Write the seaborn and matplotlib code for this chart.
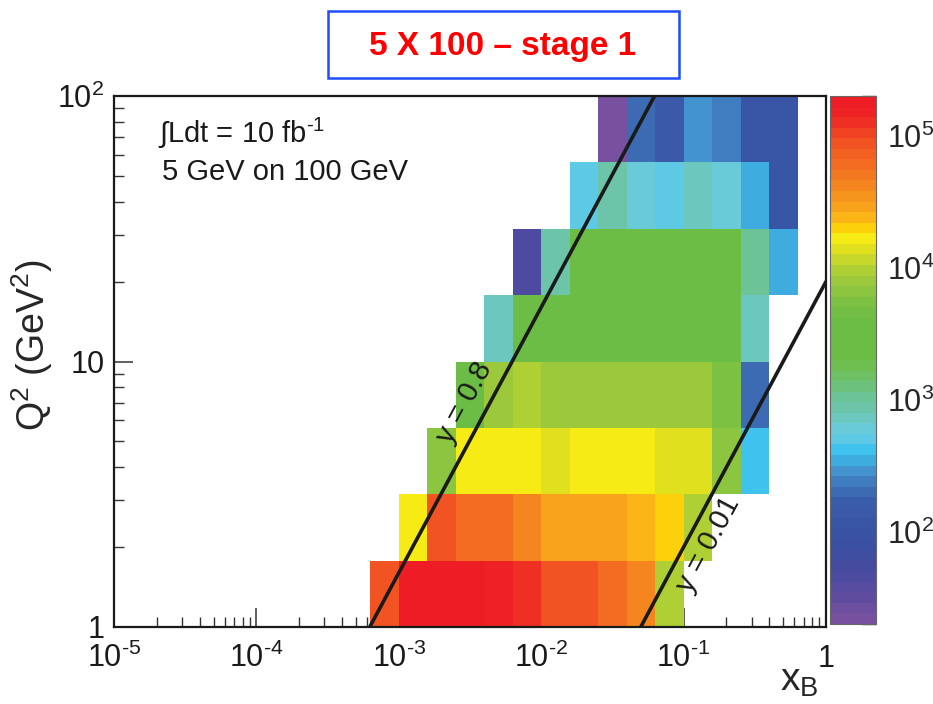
import numpy as np
import matplotlib
matplotlib.use("Agg")
import matplotlib.pyplot as plt
import seaborn as sns
from matplotlib.colors import LinearSegmentedColormap, LogNorm
from matplotlib.ticker import LogLocator, NullFormatter
from matplotlib.patches import Rectangle

# histogram bin edges (log10 units)
log_xb_edges = [-3.2, -3.0, -2.8, -2.6, -2.4, -2.2, -2.0, -1.8, -1.6,
                -1.4, -1.2, -1.0, -0.8, -0.6, -0.4, -0.2]
log_q2_edges = [0.0, 0.25, 0.5, 0.75, 1.0, 1.25, 1.5, 1.75, 2.0]

# counts per bin, one list per Q2 row from bottom to top (nan = empty bin)
nan = np.nan
counts_row1 = [85000, 186000, 186000, 186000, 148000, 126000, 85000, 85000,
               59000, 42000, 10300, nan, nan, nan, nan]
counts_row2 = [nan, 16600, 85000, 56000, 56000, 42000, 29500, 29500,
               29500, 24000, 20000, 10300, nan, nan, nan]
counts_row3 = [nan, nan, 7200, 16600, 16600, 16600, 14700, 15800,
               15800, 15800, 13600, 13600, 6800, 410, nan]
counts_row4 = [nan, nan, nan, 3300, 7400, 10300, 8600, 8600,
               8600, 7400, 7400, 7400, 5600, 200, nan]
counts_row5 = [nan, nan, nan, nan, 790, 3300, 3300, 3300,
               3300, 3300, 3300, 3300, 3300, 790, nan]
counts_row6 = [nan, nan, nan, nan, nan, 50, 830, 2000,
               3300, 3300, 2000, 2240, 2000, 1120, 350]
counts_row7 = [nan, nan, nan, nan, nan, nan, nan, 490,
               930, 590, 490, 720, 590, 350, 105]
counts_row8 = [nan, nan, nan, nan, nan, nan, nan, nan,
               22, 200, 138, 290, 245, 112, 112]

# kinematic limits: Q2 = x * y * s, beams 5 GeV on 100 GeV
e_beam = 5.0
p_beam = 100.0
y_limits = [0.8, 0.01]
y_labels = ["y = 0.8", "y = 0.01"]

# palette sampled from the colour bar (position, colour)
cbar_pos = [0.0, 0.045, 0.093, 0.14, 0.176, 0.225, 0.25, 0.277, 0.295, 0.314,
            0.33, 0.348, 0.371, 0.396, 0.424, 0.443, 0.462, 0.481, 0.5, 0.58,
            0.614, 0.642, 0.661, 0.68, 0.70, 0.718, 0.735, 0.754, 0.773, 0.792,
            0.811, 0.831, 0.85, 0.871, 0.89, 0.909, 0.93, 0.951, 0.97, 1.0]
cbar_cols = ["#77519F", "#5E4C9F", "#484B9F", "#3B50A2", "#3953A4", "#3A5DAB",
             "#3C6FB5", "#4388C8", "#429FD7", "#3DB5E7", "#3FC6F0", "#5FC9E4",
             "#6BCBD4", "#6CC6B4", "#6CC39A", "#6CC285", "#6DC06C", "#6FBF5A",
             "#6CBD45", "#6CBD45", "#7DC142", "#93C73E", "#A3CB38", "#B5D334",
             "#CFDA26", "#E6E21C", "#F6EB14", "#FDD10B", "#FBB816", "#F9A51B",
             "#F7981D", "#F58B1F", "#F47C20", "#F37021", "#F26522", "#F15A22",
             "#F04A23", "#EF3524", "#EE2524", "#EE1C24"]
cmap = LinearSegmentedColormap.from_list("root_pretty", list(zip(cbar_pos, cbar_cols)), N=50)

sns.set_theme(style="ticks")
plt.rcParams['font.family'] = ['Liberation Sans', 'DejaVu Sans']
plt.rcParams['mathtext.fontset'] = 'custom'
plt.rcParams['mathtext.rm'] = 'Liberation Sans'
plt.rcParams['mathtext.it'] = 'Liberation Sans:italic'
plt.rcParams['mathtext.bf'] = 'Liberation Sans:bold'
plt.rcParams['text.color'] = '#1a1a1a'

fig = plt.figure(figsize=(9.33, 7.04), dpi=100)
ax = fig.add_axes([114/933, 1-627/704, 712/933, 531/704])
cax = fig.add_axes([830/933, 1-624/704, 46/933, 528/704])

x_edges = 10**np.array(log_xb_edges)
q_edges = 10**np.array(log_q2_edges)
z = np.ma.masked_invalid(np.array([counts_row1, counts_row2, counts_row3, counts_row4,
                                   counts_row5, counts_row6, counts_row7, counts_row8], dtype=float))
mesh = ax.pcolormesh(x_edges, q_edges, z, cmap=cmap, norm=LogNorm(vmin=20, vmax=2e5),
                     edgecolors='none', antialiased=False)

ax.set_xscale('log')
ax.set_yscale('log')
ax.set_xlim(1e-5, 1)
ax.set_ylim(1, 100)

# y = const lines
s = 4 * e_beam * p_beam
xl = np.array([1e-5, 1.0])
for yv in y_limits:
    sns.lineplot(x=xl, y=xl * yv * s, ax=ax, color='#1a1a1a', lw=2.6)

fig.canvas.draw()
def line_angle(yv):
    p1 = ax.transData.transform((1e-3, 1e-3 * yv * s))
    p2 = ax.transData.transform((1e-2, 1e-2 * yv * s))
    return np.degrees(np.arctan2(p2[1] - p1[1], p2[0] - p1[0]))

ax.text(2.9e-3, 7.0, y_labels[0], rotation=line_angle(y_limits[0]), rotation_mode='anchor',
        ha='center', va='center', fontsize=21)
ax.text(0.15, 2.05, y_labels[1], rotation=line_angle(y_limits[1]), rotation_mode='anchor',
        ha='center', va='center', fontsize=21)

# axes ticks
ax.set_xticks([1e-5, 1e-4, 1e-3, 1e-2, 1e-1, 1],
              labels=[r'$10^{\text{-5}}$', r'$10^{\text{-4}}$', r'$10^{\text{-3}}$',
                      r'$10^{\text{-2}}$', r'$10^{\text{-1}}$', '1'])
ax.set_yticks([1, 10, 100], labels=['1', '10', r'$10^{2}$'])
for axis in (ax.xaxis, ax.yaxis):
    axis.set_minor_locator(LogLocator(base=10, subs=np.arange(2, 10), numticks=30))
    axis.set_minor_formatter(NullFormatter())
ax.tick_params(which='both', direction='in', top=False, right=False, labelsize=22,
               color='#333333', labelcolor='#1a1a1a')
ax.tick_params(which='major', length=14, width=1.1, pad=7)
ax.tick_params(which='minor', length=7, width=1.0)
ax.tick_params(axis='x', which='major', pad=29)
for lbl in ax.get_xticklabels():
    lbl.set_verticalalignment('baseline')
for sp in ax.spines.values():
    sp.set_visible(True)
    sp.set_linewidth(1.6)
    sp.set_color('#1a1a1a')

ax.set_xlabel(r'x$_{\mathrm{B}}$', fontsize=28)
ax.xaxis.set_label_coords(0.989, -0.068)
ax.xaxis.label.set_ha('right')
ax.set_ylabel(r'Q$^{2}$ (GeV$^{2}$)', fontsize=27)
ax.yaxis.set_label_coords(-0.083, 0.53)

# colour bar
cb = fig.colorbar(mesh, cax=cax)
cb.set_ticks([1e2, 1e3, 1e4, 1e5], labels=[r'$10^{2}$', r'$10^{3}$', r'$10^{4}$', r'$10^{5}$'])
cb.minorticks_on()
cb.outline.set_linewidth(0.8)
cb.outline.set_edgecolor('#666666')
cax.tick_params(which='both', direction='in', right=True, left=False, color='#333333')
cax.tick_params(which='major', length=20, width=1.0, labelsize=22, pad=8)
cax.tick_params(which='minor', length=10, width=1.0)

# info text
ax.text(0.062, 0.911, '∫Ldt = 10 fb$^{\\text{-1}}$', transform=ax.transAxes, fontsize=21, va='baseline')
ax.text(0.068, 0.842, '5 GeV on 100 GeV', transform=ax.transAxes, fontsize=21, va='baseline')

# title box
fig.patches.append(Rectangle((328/933, 1-78/704), 351/933, 67/704, transform=fig.transFigure,
                             fill=False, edgecolor='#1f4cff', lw=1.8))
fig.text(503/933, 1-46/704, '5 X 100 – stage 1', color='#ff0000', fontweight='bold', fontsize=24,
         family=['Liberation Sans', 'DejaVu Sans'], ha='center', va='center')

fig.savefig('out.png', dpi=100)
